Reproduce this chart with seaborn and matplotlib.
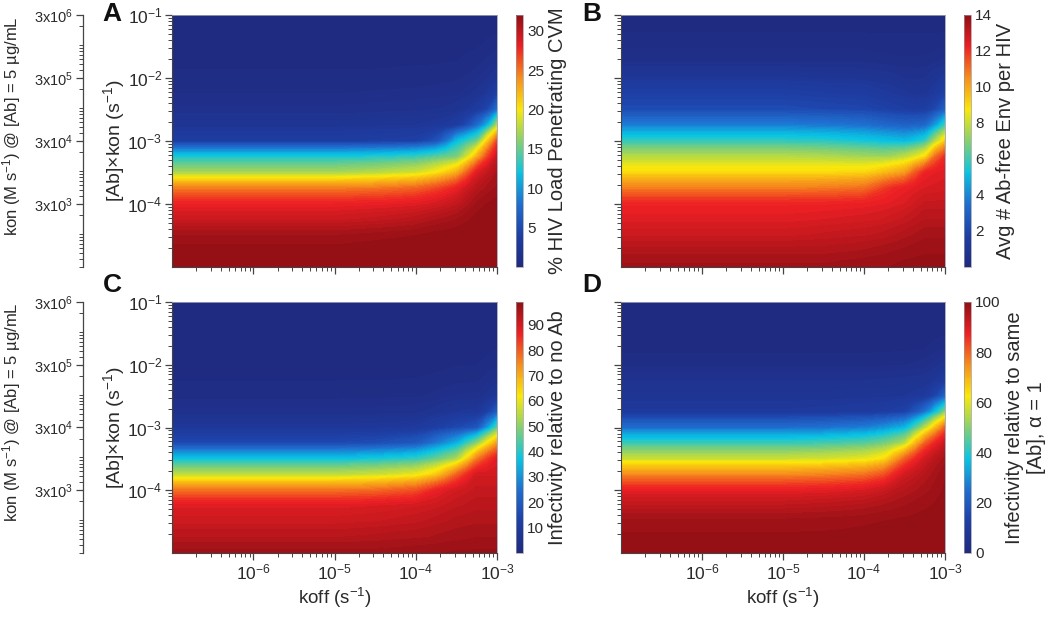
import numpy as np
import matplotlib
matplotlib.use("Agg")
import matplotlib.pyplot as plt
import matplotlib.cm as mcm
import matplotlib.colors as mcolors
import matplotlib.transforms as mtransforms
import seaborn as sns
from matplotlib.ticker import LogLocator, NullFormatter, FixedLocator

sns.set_style("ticks")
plt.rcParams['font.family'] = ['Liberation Sans', 'DejaVu Sans']
plt.rcParams['mathtext.fontset'] = 'custom'
plt.rcParams['mathtext.rm'] = 'Liberation Sans'
plt.rcParams['mathtext.it'] = 'Liberation Sans:italic'
plt.rcParams['mathtext.default'] = 'regular'

# ---------------- data ----------------
# log10 koff (s^-1) of the sampled columns
log_koff = [-7, -5, -4.5, -4.25, -4, -3.75, -3.625, -3.5, -3.375, -3.25, -3.125, -3]
# log10 [Ab]*kon (s^-1) of the sampled rows (bottom -> top)
log_abkon = [-5, -4.75, -4.5, -4.25, -4, -3.75, -3.5, -3.25, -3,
             -2.75, -2.5, -2.25, -2, -1.75, -1.5, -1.25, -1]

# A: % HIV load penetrating CVM  (one list per koff column, bottom -> top)
pct_load = [
    [32, 31.8, 31.2, 29.5, 28, 24.5, 17, 12.5, 3.5, 2.2, 1.3, 0.8, 0.5, 0.3, 0.2, 0.1, 0.05],
    [32, 31.8, 31.2, 29.5, 28, 24.5, 17, 12.5, 3.5, 2.2, 1.3, 0.8, 0.5, 0.3, 0.2, 0.1, 0.05],
    [32, 31.9, 31.4, 29.8, 28.2, 24.8, 17.5, 12.8, 3.7, 2.3, 1.4, 0.85, 0.5, 0.3, 0.2, 0.1, 0.05],
    [32, 31.95, 31.5, 30.0, 28.3, 25.1, 18.0, 13.1, 3.8, 2.35, 1.45, 0.88, 0.52, 0.32, 0.2, 0.1, 0.05],
    [32, 32, 31.6, 30.3, 28.5, 25.5, 18.5, 13.5, 4, 2.4, 1.5, 0.9, 0.55, 0.35, 0.2, 0.1, 0.05],
    [32, 32, 31.8, 30.8, 29, 26.5, 20, 14.5, 5.5, 2.7, 1.6, 1.0, 0.6, 0.35, 0.2, 0.1, 0.05],
    [32, 32, 31.85, 31.0, 29.4, 27.2, 21.2, 15.0, 8, 2.9, 1.7, 1.05, 0.65, 0.38, 0.22, 0.11, 0.05],
    [32, 32, 31.9, 31.2, 29.8, 28, 22.5, 15.5, 11.5, 3.4, 1.9, 1.15, 0.7, 0.4, 0.25, 0.12, 0.06],
    [32, 32, 31.95, 31.5, 30.6, 29.2, 25.5, 18.5, 13.3, 5.0, 2.4, 1.4, 0.85, 0.5, 0.3, 0.15, 0.07],
    [32, 32, 32, 31.8, 31.3, 30.3, 28.5, 22.5, 15, 7.5, 3.2, 1.8, 1.1, 0.6, 0.35, 0.18, 0.08],
    [32, 32, 32, 31.9, 31.6, 30.9, 29.8, 26.5, 21, 11, 4.5, 2.6, 1.5, 0.9, 0.5, 0.24, 0.11],
    [32, 32, 32, 32, 31.8, 31.3, 30.8, 29.5, 26.5, 17.5, 8, 4, 2.2, 1.2, 0.6, 0.3, 0.15],
]

# B: avg # Ab-free Env per HIV
free_env = [
    [13.7, 13.4, 12.9, 12.5, 12.2, 10.7, 9.0, 7.7, 5.8, 3.8, 2.2, 1.7, 1.1, 0.5, 0.3, 0.15, 0.1],
    [13.7, 13.4, 12.9, 12.5, 12.2, 10.7, 9.0, 7.7, 5.8, 3.8, 2.2, 1.7, 1.1, 0.5, 0.3, 0.15, 0.1],
    [13.7, 13.4, 13.0, 12.6, 12.2, 10.8, 9.0, 7.6, 5.7, 3.7, 2.1, 1.6, 1.0, 0.5, 0.3, 0.15, 0.1],
    [13.75, 13.45, 13.05, 12.65, 12.25, 10.9, 9.05, 7.5, 5.55, 3.6, 2.05, 1.55, 0.98, 0.5, 0.3, 0.15, 0.1],
    [13.8, 13.5, 13.1, 12.7, 12.3, 11.0, 9.1, 7.4, 5.4, 3.5, 2.0, 1.5, 0.95, 0.5, 0.3, 0.15, 0.1],
    [13.8, 13.6, 13.2, 12.8, 12.4, 11.8, 9.6, 7.3, 5.2, 3.2, 1.8, 1.3, 0.85, 0.45, 0.25, 0.15, 0.1],
    [13.85, 13.65, 13.3, 12.9, 12.5, 12.1, 9.9, 7.5, 5.1, 3.1, 1.7, 1.2, 0.78, 0.42, 0.25, 0.15, 0.1],
    [13.9, 13.7, 13.4, 13.0, 12.6, 12.3, 10.2, 7.8, 5.0, 3.0, 1.6, 1.1, 0.7, 0.4, 0.25, 0.15, 0.1],
    [13.9, 13.75, 13.5, 13.15, 12.8, 12.45, 11.3, 8.3, 5.3, 3.05, 1.55, 1.0, 0.68, 0.4, 0.25, 0.15, 0.1],
    [13.9, 13.8, 13.6, 13.3, 13.0, 12.6, 12.2, 9.0, 5.8, 3.2, 1.6, 1.0, 0.7, 0.4, 0.25, 0.15, 0.1],
    [13.9, 13.8, 13.6, 13.3, 13.0, 12.65, 12.4, 11.0, 7.6, 4.4, 2.1, 1.3, 0.9, 0.5, 0.28, 0.15, 0.1],
    [13.9, 13.8, 13.6, 13.3, 13.0, 12.7, 12.5, 12.0, 9.3, 6.0, 3.0, 1.8, 1.2, 0.6, 0.3, 0.15, 0.1],
]

# C: infectivity relative to no Ab
infect_noab = [
    [97, 94, 91, 88.5, 77, 55, 37, 15, 8, 4, 2, 1.2, 0.7, 0.4, 0.25, 0.1, 0.05],
    [97, 94, 91, 88.5, 77, 55, 37, 15, 8, 4, 2, 1.2, 0.7, 0.4, 0.25, 0.1, 0.05],
    [97, 94.5, 91.5, 89, 78, 56.5, 38.5, 16, 8.3, 4.2, 2.1, 1.2, 0.7, 0.4, 0.25, 0.1, 0.05],
    [97.2, 94.8, 92, 89.5, 79.5, 58, 39.8, 17.5, 8.6, 4.3, 2.2, 1.25, 0.72, 0.42, 0.25, 0.11, 0.05],
    [97.5, 95, 92.5, 90, 81, 60, 41, 19, 9, 4.5, 2.3, 1.3, 0.75, 0.45, 0.25, 0.12, 0.06],
    [97.5, 95.5, 93.5, 91, 86.5, 66, 46, 26, 11.5, 6, 2.8, 1.5, 0.85, 0.5, 0.3, 0.15, 0.07],
    [97.8, 95.8, 94, 91.8, 88.5, 72, 49.5, 30, 13, 6.7, 3.3, 1.7, 0.95, 0.55, 0.32, 0.16, 0.07],
    [98, 96, 94.5, 92.5, 90, 79, 53, 34, 14.5, 7.5, 3.8, 2, 1.1, 0.6, 0.35, 0.18, 0.08],
    [98, 96.2, 94.8, 93, 91, 85, 64, 42, 16, 7.8, 3.9, 2.1, 1.15, 0.65, 0.38, 0.19, 0.09],
    [98, 96.5, 95, 93.5, 92, 90, 76, 50, 18, 8, 4, 2.2, 1.2, 0.7, 0.4, 0.2, 0.1],
    [98, 96.5, 95, 93.5, 92, 90, 83, 62, 30, 12, 5.5, 3, 1.6, 0.9, 0.5, 0.25, 0.12],
    [98, 96.5, 95, 93.5, 92, 90, 88, 72, 45, 20, 8, 4, 2.2, 1.2, 0.6, 0.3, 0.15],
]

# D: infectivity relative to same [Ab], alpha = 1
infect_same = [
    [99.5, 99, 98, 94, 88, 75, 57, 42, 24, 9, 6.5, 5, 2, 0.8, 0.4, 0.2, 0.1],
    [99.5, 99, 98, 94, 88, 75, 57, 42, 24, 9, 6.5, 5, 2, 0.8, 0.4, 0.2, 0.1],
    [99.5, 99, 98.2, 94.5, 88.5, 76, 58, 43, 25, 9.5, 6.5, 5, 2, 0.8, 0.4, 0.2, 0.1],
    [99.55, 99.1, 98.3, 95, 89.2, 77, 59, 44, 26, 9.8, 6.8, 5, 2.05, 0.8, 0.4, 0.2, 0.1],
    [99.6, 99.2, 98.5, 95.5, 90, 78, 60, 45, 27, 10, 7, 5, 2.1, 0.8, 0.4, 0.2, 0.1],
    [99.7, 99.4, 98.8, 96.5, 92, 82, 64, 48, 30, 11, 7, 5.2, 2.2, 0.9, 0.4, 0.2, 0.1],
    [99.7, 99.45, 99, 97, 93.8, 87, 72, 51, 32.5, 12, 7.2, 5.3, 2.3, 0.95, 0.42, 0.2, 0.1],
    [99.7, 99.5, 99.1, 97.5, 95, 91, 80, 55, 35, 13, 7.5, 5.5, 2.4, 1.0, 0.45, 0.2, 0.1],
    [99.75, 99.55, 99.2, 98, 96, 93, 86, 68, 44, 18, 8.2, 5.7, 2.7, 1.1, 0.5, 0.25, 0.12],
    [99.8, 99.6, 99.3, 98.5, 97, 95, 91, 80, 55, 25, 9, 6, 3, 1.2, 0.6, 0.3, 0.15],
    [99.8, 99.65, 99.4, 98.9, 98, 97, 94.5, 87, 68, 37, 14, 7.5, 4.2, 1.8, 0.8, 0.4, 0.18],
    [99.8, 99.7, 99.5, 99.3, 99, 98.5, 97, 92, 80, 50, 22, 10, 6, 2.5, 1, 0.5, 0.2],
]

cbar_max = [32, 14, 99, 100]
cbar_ticks = [[5, 10, 15, 20, 25, 30],
              [2, 4, 6, 8, 10, 12, 14],
              [10, 20, 30, 40, 50, 60, 70, 80, 90],
              [0, 20, 40, 60, 80, 100]]
cbar_labels = ["% HIV Load Penetrating CVM",
               "Avg # Ab-free Env per HIV",
               "Infectivity relative to no Ab",
               "Infectivity relative to same\n[Ab], \u03b1 = 1"]
panel_letters = ["A", "B", "C", "D"]
kon_ticks = [3e3, 3e4, 3e5, 3e6]
kon_ticklabels = ["3x10$^{3}$", "3x10$^{4}$", "3x10$^{5}$", "3x10$^{6}$"]

# ---------------- figure ----------------
W, H = 1050, 618
fig = plt.figure(figsize=(W / 100, H / 100), dpi=100)

jet_like = sns.blend_palette(
    ["#1f2a80", "#1e3fa6", "#1f6fd0", "#08c4e4", "#86d070",
     "#fbe80a", "#f6901c", "#ee2024", "#920f14"], n_colors=256, as_cmap=True)

TXT = "#2a2a2a"
TICK = "#444444"

def frac_box(x0, y0, x1, y1):
    return [x0 / W, 1 - y1 / H, (x1 - x0) / W, (y1 - y0) / H]

rows_y = [(15, 267), (302, 553)]
cols_x = [(172, 497), (621, 945)]
cbar_x = [516, 964]
letter_pos = [(112, 14), (592, 14), (112, 285), (592, 285)]

datasets = [pct_load, free_env, infect_noab, infect_same]
KX, KY = np.meshgrid(10.0 ** np.array(log_koff), 10.0 ** np.array(log_abkon))

for i, Z in enumerate(datasets):
    r, c = divmod(i, 2)
    y0, y1 = rows_y[r]
    x0, x1 = cols_x[c]
    ax = fig.add_axes(frac_box(x0, y0, x1, y1))
    Zarr = np.array(Z, dtype=float).T
    norm = mcolors.Normalize(vmin=0, vmax=cbar_max[i])
    levels = np.linspace(0, cbar_max[i], 81)
    cs = ax.contourf(KX, KY, Zarr, levels=levels, cmap=jet_like, norm=norm,
                     extend="both", antialiased=False)
    cs.set_rasterized(True)
    ax.set_xscale("log")
    ax.set_yscale("log")
    ax.set_xlim(1e-7, 1e-3)
    ax.set_ylim(1e-5, 1e-1)
    ax.xaxis.set_major_locator(FixedLocator([1e-6, 1e-5, 1e-4, 1e-3]))
    ax.yaxis.set_major_locator(FixedLocator([1e-4, 1e-3, 1e-2, 1e-1]))
    ax.xaxis.set_minor_locator(LogLocator(base=10, subs=np.arange(2, 10)))
    ax.yaxis.set_minor_locator(LogLocator(base=10, subs=np.arange(2, 10)))
    ax.xaxis.set_minor_formatter(NullFormatter())
    ax.yaxis.set_minor_formatter(NullFormatter())
    ax.tick_params(which="major", direction="out", length=5, width=0.9,
                   color=TICK, labelsize=12.5, labelcolor=TXT, pad=2)
    ax.tick_params(which="minor", direction="out", length=3, width=0.7, color=TICK)
    ax.tick_params(top=False, right=False)
    for s in ["top", "right"]:
        ax.spines[s].set_color("#9aa3b5")
        ax.spines[s].set_linewidth(0.6)
    for s in ["left", "bottom"]:
        ax.spines[s].set_color(TICK)
        ax.spines[s].set_linewidth(0.8)
    if r == 0:
        ax.tick_params(labelbottom=False)
    else:
        ax.set_xlabel("koff (s$^{-1}$)", fontsize=13.5, color=TXT, labelpad=2)
    if c == 1:
        ax.tick_params(labelleft=False)
    else:
        ax.set_ylabel("[Ab]\u00d7kon (s$^{-1}$)", fontsize=14, color=TXT, labelpad=0)

    cax = fig.add_axes(frac_box(cbar_x[c], y0, cbar_x[c] + 7, y1))
    sm = mcm.ScalarMappable(norm=norm, cmap=jet_like)
    cb = fig.colorbar(sm, cax=cax)
    cb.set_ticks(cbar_ticks[i])
    cb.outline.set_edgecolor("#999999")
    cb.outline.set_linewidth(0.5)
    cb.ax.tick_params(length=0, labelsize=11, labelcolor=TXT, pad=3)
    cb.set_label(cbar_labels[i], fontsize=14.5, color=TXT, labelpad=3)

    fig.text(letter_pos[i][0] / W, 1 - letter_pos[i][1] / H, panel_letters[i],
             fontsize=19, fontweight="bold", color="#111111",
             ha="center", va="center")

    if c == 0:
        oax = fig.add_axes(frac_box(83, y0, 84, y1))
        oax.set_yscale("log")
        oax.set_ylim(3e2, 3e6)
        oax.yaxis.set_major_locator(FixedLocator(kon_ticks))
        oax.set_yticklabels(kon_ticklabels)
        oax.yaxis.set_minor_locator(LogLocator(base=10, subs=np.arange(1, 10)))
        oax.yaxis.set_minor_formatter(NullFormatter())
        oax.xaxis.set_visible(False)
        for s in ["top", "right", "bottom"]:
            oax.spines[s].set_visible(False)
        oax.spines["left"].set_color(TICK)
        oax.spines["left"].set_linewidth(0.9)
        oax.patch.set_alpha(0)
        oax.tick_params(which="major", direction="out", length=5, width=0.9,
                        color=TICK, labelsize=10.5, labelcolor=TXT, pad=2)
        oax.tick_params(which="minor", direction="out", length=3, width=0.7, color=TICK)
        oax.set_ylabel("kon (M s$^{-1}$) @ [Ab] = 5 \u00b5g/mL", fontsize=12,
                       color=TXT)
        blend = mtransforms.blended_transform_factory(fig.transFigure, oax.transAxes)
        oax.yaxis.set_label_coords(23 / W, 0.56, transform=blend)

fig.savefig("out.png", dpi=100)
